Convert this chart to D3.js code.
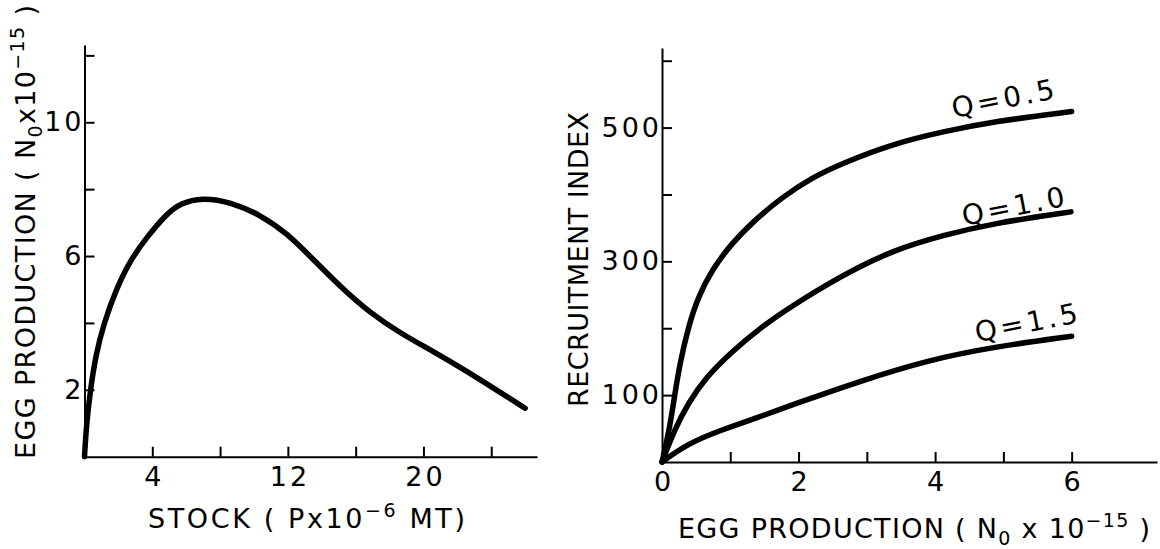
<!DOCTYPE html>
<html lang="en">
<head>
<meta charset="UTF-8">
<title>Egg production and recruitment</title>
<script src="https://cdn.jsdelivr.net/npm/d3@7.9.0/dist/d3.min.js"></script>
<style>
  body { margin: 0; background: #fff; }
  svg { display: block; background: #fff; }
  /* axes drawn with thin ink lines, like the original figure */
  .axis path, .axis line { stroke: #000; stroke-width: 2; }
  .axis text { font-family: "DejaVu Sans", sans-serif; font-size: 27px; fill: #000; letter-spacing: 3px; }
  .curve { fill: none; stroke: #000; stroke-width: 5.5; stroke-linecap: round; stroke-linejoin: round; }
  .title, .qlabel { font-family: "DejaVu Sans", sans-serif; fill: #000; }
  .title { font-size: 27px; }
  .qlabel { font-size: 28px; }
</style>
</head>
<body>
<svg id="chart" width="1160" height="549"></svg>
<script>
// ---- left panel: egg production against stock ----
let stock = [0, 0.12, 0.35, 0.65, 1.14, 1.93, 2.71, 3.7, 4.88, 5.66, 6.94, 8.61, 10.38, 11.96, 13.53, 15.1, 16.87, 18.64, 20.6, 22.58, 24.54, 26.0];
let eggProd = [0, 1.0, 2.0, 3.0, 4.0, 5.08, 5.88, 6.58, 7.28, 7.58, 7.75, 7.62, 7.23, 6.68, 5.88, 5.08, 4.29, 3.69, 3.14, 2.55, 1.92, 1.45];
let stockTicks = [4, 8, 12, 16, 20, 24];
let stockTickLabels = [4, 12, 20];
let eggTicks = [2, 4, 6, 8, 10, 12];
let eggTickLabels = [2, 6, 10];

// ---- right panel: recruitment index against egg production ----
let eggsQ05 = [0, 0.117, 0.19, 0.264, 0.385, 0.53, 0.73, 1.02, 1.36, 1.75, 2.19, 2.65, 3.39, 4.12, 4.85, 6.0];
let recruitQ05 = [0, 53, 103, 148, 202, 247, 287, 327, 362, 395, 425, 447, 476, 494, 509, 524];
let eggsQ10 = [0, 0.19, 0.385, 0.63, 1.02, 1.46, 1.85, 2.65, 3.39, 4.12, 4.85, 5.99];
let recruitQ10 = [0, 50, 88, 125, 165, 202, 230, 280, 317, 339, 357, 374];
let eggsQ15 = [0, 0.385, 0.87, 1.36, 1.92, 2.9, 3.88, 4.85, 6.0];
let recruitQ15 = [0, 28, 48, 65, 86, 121, 152, 172, 188];
let qNames = ['Q=0.5', 'Q=1.0', 'Q=1.5'];
let eggTicksRight = [1, 2, 3, 4, 5, 6];
let eggTickLabelsRight = [0, 2, 4, 6];
let recruitTicks = [100, 200, 300, 400, 500, 600];
let recruitTickLabels = [100, 300, 500];

let svg = d3.select('#chart');
let spacing = 3; // letter-spacing of tick labels, used to re-centre them

// ---------- left panel ----------
let xL = d3.scaleLinear().domain([0, 26.7]).range([84.5, 537]);
let yL = d3.scaleLinear().domain([0, 12.31]).range([456.7, 45]);

svg.append('g')
    .attr('class', 'axis')
    .attr('transform', `translate(0,${yL(0)})`)
    .call(d3.axisBottom(xL)
        .tickValues([0].concat(stockTicks))
        .tickSizeInner(-10).tickSizeOuter(0).tickPadding(10)
        .tickFormat(d => stockTickLabels.includes(d) ? d : ''))
    .call(g => g.selectAll('.tick').filter(d => d === 0).select('line').remove())
    .call(g => g.selectAll('.tick text').attr('dx', spacing / 2));

svg.append('g')
    .attr('class', 'axis')
    .attr('transform', `translate(${xL(0)},0)`)
    .call(d3.axisLeft(yL)
        .tickValues(eggTicks)
        .tickSizeInner(-10).tickSizeOuter(0).tickPadding(3)
        .tickFormat(d => eggTickLabels.includes(d) ? d : ''))
    .call(g => g.selectAll('.tick text').attr('dx', spacing));

// basis curve keeps the hand-drawn line smooth through the read-off points
let leftLine = d3.line()
    .x(d => xL(d[0]))
    .y(d => yL(d[1]))
    .curve(d3.curveBasis);

svg.append('path')
    .attr('class', 'curve')
    .attr('d', leftLine(d3.zip(stock, eggProd)));

// left axis titles (stretched to the width of the hand lettering)
let lx = svg.append('text').attr('class', 'title')
    .attr('x', 306.5).attr('y', 528)
    .attr('text-anchor', 'middle')
    .attr('textLength', 317).attr('lengthAdjust', 'spacing');
lx.append('tspan').text('STOCK ( Px10');
lx.append('tspan').attr('dy', -11).attr('font-size', 19).text('−6');
lx.append('tspan').attr('dy', 11).text(' MT)');

let ly = svg.append('text').attr('class', 'title')
    .attr('transform', 'translate(35,232) rotate(-90)')
    .attr('text-anchor', 'middle')
    .attr('textLength', 454).attr('lengthAdjust', 'spacing');
ly.append('tspan').text('EGG  PRODUCTION ( N');
ly.append('tspan').attr('dy', 7).attr('font-size', 19).text('0');
ly.append('tspan').attr('dy', -7).text('x10');
ly.append('tspan').attr('dy', -11).attr('font-size', 19).text('−15');
ly.append('tspan').attr('dy', 11).text(' )');

// ---------- right panel ----------
let xR = d3.scaleLinear().domain([0, 7.25]).range([662, 1157]);
let yR = d3.scaleLinear().domain([0, 619]).range([462, 48]);

svg.append('g')
    .attr('class', 'axis')
    .attr('transform', `translate(0,${yR(0)})`)
    .call(d3.axisBottom(xR)
        .tickValues([0].concat(eggTicksRight))
        .tickSizeInner(-10).tickSizeOuter(0).tickPadding(10)
        .tickFormat(d => eggTickLabelsRight.includes(d) ? d : ''))
    .call(g => g.selectAll('.tick').filter(d => d === 0).select('line').remove())
    .call(g => g.selectAll('.tick text').attr('dx', spacing / 2));

svg.append('g')
    .attr('class', 'axis')
    .attr('transform', `translate(${xR(0)},0)`)
    .call(d3.axisLeft(yR)
        .tickValues(recruitTicks)
        .tickSizeInner(-10).tickSizeOuter(0).tickPadding(3)
        .tickFormat(d => recruitTickLabels.includes(d) ? d : ''))
    .call(g => g.selectAll('.tick text').attr('dx', spacing));

let rightLine = d3.line()
    .x(d => xR(d[0]))
    .y(d => yR(d[1]))
    .curve(d3.curveBasis);

let series = [
    d3.zip(eggsQ05, recruitQ05),
    d3.zip(eggsQ10, recruitQ10),
    d3.zip(eggsQ15, recruitQ15)
];

svg.selectAll('path.rcurve')
    .data(series)
    .enter()
    .append('path')
    .attr('class', 'curve rcurve')
    .attr('d', rightLine);

// curve labels sit just above the right end of each curve
let labelAt = [[5.02, 529], [5.17, 368], [5.36, 194]];
svg.selectAll('text.qlabel')
    .data(qNames)
    .enter()
    .append('text')
    .attr('class', 'qlabel')
    .attr('text-anchor', 'middle')
    .attr('textLength', 104).attr('lengthAdjust', 'spacing')
    .attr('transform', (d, i) => `translate(${xR(labelAt[i][0])},${yR(labelAt[i][1])}) rotate(-11)`)
    .text(d => d);

// right axis titles
let rx = svg.append('text').attr('class', 'title')
    .attr('x', 914).attr('y', 538)
    .attr('text-anchor', 'middle')
    .attr('textLength', 472).attr('lengthAdjust', 'spacing');
rx.append('tspan').text('EGG  PRODUCTION ( N');
rx.append('tspan').attr('dy', 7).attr('font-size', 19).text('0');
rx.append('tspan').attr('dy', -7).text(' x 10');
rx.append('tspan').attr('dy', -11).attr('font-size', 19).text('−15');
rx.append('tspan').attr('dy', 11).text(' )');

svg.append('text').attr('class', 'title')
    .attr('transform', 'translate(588,259.5) rotate(-90)')
    .attr('text-anchor', 'middle')
    .attr('textLength', 295).attr('lengthAdjust', 'spacing')
    .text('RECRUITMENT  INDEX');
</script>
</body>
</html>
